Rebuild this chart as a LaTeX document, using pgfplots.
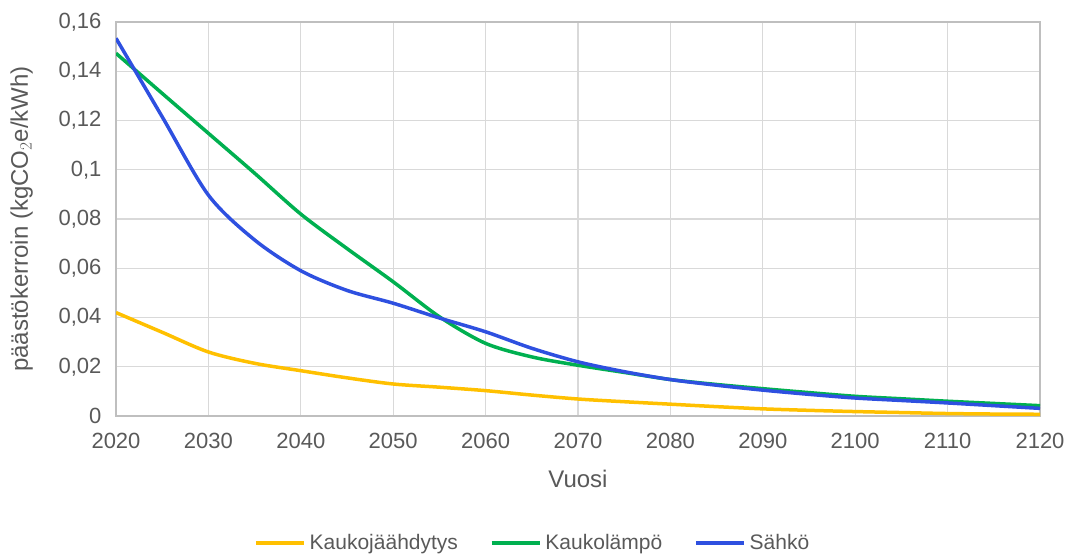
\documentclass[border=0pt]{standalone}
\usepackage{pgfplots}
\pgfplotsset{compat=1.18}
\usepackage{fontspec}
\setmainfont{Liberation Sans}
\definecolor{txt}{HTML}{595959}
\definecolor{gridc}{HTML}{D9D9D9}
\definecolor{axc}{HTML}{BFBFBF}
\definecolor{cy}{HTML}{FFC000}
\definecolor{cg}{HTML}{00B050}
\definecolor{cb}{HTML}{2E50E0}
\begin{document}
\begin{tikzpicture}[x=1pt,y=1pt]
\useasboundingbox (0,0) rectangle (1066,555);
\begin{axis}[
  at={(116pt,139pt)}, anchor=south west,
  scale only axis, width=924pt, height=394pt,
  xmin=2020, xmax=2120, ymin=0, ymax=0.16,
  xtick={2020,2030,...,2120}, ytick={0,0.02,...,0.16},
  grid=major, grid style={gridc, line width=1.3pt},
  axis line style={axc, line width=1.3pt},
  tick style={draw=none},
  /pgf/number format/assume math mode=true,
  /pgf/number format/.cd, use comma, fixed, precision=2, 1000 sep={},
  /pgfplots/.cd,
  scaled y ticks=false,
  yticklabel style={text=txt, font=\fontsize{22}{24}\selectfont, xshift=-11pt},
  xticklabel style={text=txt, font=\fontsize{22}{24}\selectfont, yshift=-14pt},
  xlabel={Vuosi}, ylabel={päästökerroin (kgCO$_2$e/kWh)},
  xlabel style={at={(axis description cs:0.5,-0.16)}, anchor=center, text=txt, font=\fontsize{24}{26}\selectfont},
  ylabel style={at={(axis description cs:-0.102,0.5)}, anchor=center, text=txt, font=\fontsize{24}{26}\selectfont},
  legend style={at={(0.451,-0.322)}, anchor=center, draw=none, fill=none,
    legend columns=3, text=txt, font=\fontsize{21}{23}\selectfont,
    /tikz/every even column/.append style={column sep=30pt},
    /tikz/every odd column/.append style={column sep=2pt}},
  legend image code/.code={\draw[#1, line width=3.5pt] (0pt,0pt) -- (48pt,0pt);},
  every axis plot/.append style={line width=3.5pt, smooth, tension=0.5},
]
\addplot[cy] coordinates {(2020,0.042)(2025,0.034)(2030,0.026)(2035,0.0214)(2040,0.0184)(2045,0.0155)(2050,0.013)(2055,0.0117)(2060,0.0103)(2065,0.0085)(2070,0.0069)(2075,0.0058)(2080,0.0048)(2085,0.0038)(2090,0.0029)(2095,0.0023)(2100,0.0018)(2105,0.0014)(2110,0.001)(2115,0.0008)(2120,0.0007)};
\addlegendentry{Kaukojäähdytys}
\addplot[cg] coordinates {(2020,0.1473)(2025,0.131)(2030,0.1148)(2035,0.0986)(2040,0.082)(2045,0.068)(2050,0.0545)(2055,0.0403)(2060,0.0295)(2065,0.024)(2070,0.0206)(2075,0.0177)(2080,0.0148)(2085,0.0128)(2090,0.0111)(2095,0.0095)(2100,0.008)(2105,0.007)(2110,0.006)(2115,0.0051)(2120,0.0042)};
\addlegendentry{Kaukolämpö}
\addplot[cb] coordinates {(2020,0.1534)(2025,0.1215)(2030,0.0897)(2035,0.0715)(2040,0.059)(2045,0.051)(2050,0.0458)(2055,0.0398)(2060,0.0342)(2065,0.0275)(2070,0.022)(2075,0.018)(2080,0.0148)(2085,0.0125)(2090,0.0105)(2095,0.0088)(2100,0.0073)(2105,0.0063)(2110,0.0053)(2115,0.0042)(2120,0.0031)};
\addlegendentry{Sähkö}
\end{axis}
\end{tikzpicture}
\end{document}
